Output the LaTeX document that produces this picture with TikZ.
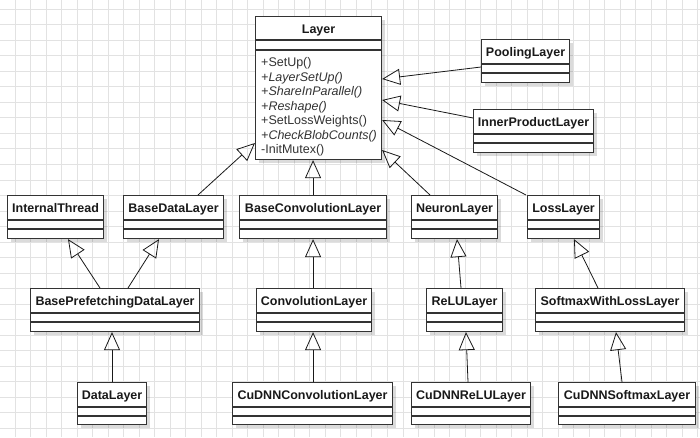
\documentclass[tikz,border=0pt]{standalone}
\usepackage{fontspec}
\setmainfont{Liberation Sans}
\usetikzlibrary{arrows.meta,calc,shadows}
\definecolor{gridc}{HTML}{E2E2E2}
\definecolor{boxc}{HTML}{333333}
\definecolor{opc}{HTML}{333333}
\tikzset{
  cls/.style={draw=boxc, line width=1.1pt, fill=white, anchor=north west, inner sep=0pt,
    drop shadow={shadow xshift=3pt, shadow yshift=-3pt, fill=black, opacity=0.14}},
  clstitle/.style={font=\fontsize{12.5}{14.5}\selectfont\bfseries, text=black!90, inner sep=0pt, anchor=base},
  sepline/.style={draw=boxc, line width=1.1pt},
  inh/.style={draw=black!90, line width=0.8pt, -{Triangle[open, length=18pt, width=16pt]}},
}
\newcommand{\umlclass}[6]{%
  \node[cls, minimum width=#4 pt, minimum height=#5 pt] (#1) at (#2,#3) {};
  \node[clstitle] (#1-t) at ($(#1.north)+(0,17.5)$) {#6};
  \draw[sepline] ($(#1.north west)+(0,25)$) -- ($(#1.north east)+(0,25)$);
  \draw[sepline] ($(#1.north west)+(0,34)$) -- ($(#1.north east)+(0,34)$);
}
\begin{document}
\begin{tikzpicture}[x=1pt,y=-1pt]
\useasboundingbox (0,0) rectangle (700,437);
\fill[white] (0,0) rectangle (700,437);
% grid
\foreach \i in {1,...,45} {\draw[gridc, line width=1pt] ({15.52*\i-0.5},0) -- ({15.52*\i-0.5},437);}
\foreach \j in {0,...,27} {\draw[gridc, line width=1pt] (0,{9.3+15.52*\j}) -- (700,{9.3+15.52*\j});}

% Layer
\node[cls, minimum width=126pt, minimum height=143pt] (layer) at (255,16) {};
\node[clstitle] (layer-t) at ($(layer.north)+(0,17.5)$) {Layer};
\draw[sepline] ($(layer.north west)+(0,24)$) -- ($(layer.north east)+(0,24)$);
\draw[sepline] ($(layer.north west)+(0,34)$) -- ($(layer.north east)+(0,34)$);
\node[anchor=north west, inner sep=0pt, align=left, text=opc,
      font=\fontsize{12.5}{14.5}\selectfont] (layer-ops) at ($(layer.north west)+(6,41.5)$)
  {+SetUp()\\
   \textit{+LayerSetUp()}\\
   \textit{+ShareInParallel()}\\
   \textit{+Reshape()}\\
   +SetLossWeights()\\
   \textit{+CheckBlobCounts()}\\
   -InitMutex()};

\umlclass{pool}{481}{39}{88}{43}{PoolingLayer}
\umlclass{inner}{473}{109}{120}{43}{InnerProductLayer}
\umlclass{ithread}{7}{195}{96}{43}{InternalThread}
\umlclass{bdl}{123}{195}{100}{43}{BaseDataLayer}
\umlclass{bconv}{239}{195}{147}{43}{BaseConvolutionLayer}
\umlclass{neuron}{411}{195}{86}{43}{NeuronLayer}
\umlclass{loss}{527}{195}{72}{43}{LossLayer}
\umlclass{bpf}{30}{288}{169}{43}{BasePrefetchingDataLayer}
\umlclass{conv}{256}{288}{115}{43}{ConvolutionLayer}
\umlclass{relu}{426}{288}{76}{43}{ReLULayer}
\umlclass{softmax}{535}{288}{149}{43}{SoftmaxWithLossLayer}
\umlclass{data}{77}{382}{69}{42}{DataLayer}
\umlclass{cuconv}{232}{382}{160}{42}{CuDNNConvolutionLayer}
\umlclass{curelu}{411}{382}{119}{42}{CuDNNReLULayer}
\umlclass{cusoft}{558}{382}{137}{42}{CuDNNSoftmaxLayer}

% inheritance connectors
\draw[inh] (pool.west |- 0,67) -- (layer.east |- 0,79);
\draw[inh] (inner.west |- 0,118) -- (layer.east |- 0,100);
\draw[inh] ($(loss.north west)+(-1,0)$) -- (layer.east |- 0,120);
\draw[inh] ($(neuron.north west)+(19,0)$) -- (layer.east |- 0,150);
\draw[inh] (bconv.north) -- (bconv.north |- layer.south);
\draw[inh] ($(bdl.north west)+(75,0)$) -- (layer.west |- 0,143);
\draw[inh] ($(bpf.north west)+(70,0)$) -- ($(ithread.south west)+(61,0)$);
\draw[inh] ($(bpf.north west)+(98,0)$) -- ($(bdl.south west)+(36,0)$);
\draw[inh] ($(data.north west)+(35,0)$) -- ($(bpf.south west)+(82,0)$);
\draw[inh] (conv.north -| bconv.south) -- (bconv.south);
\draw[inh] (cuconv.north -| bconv.south) -- (conv.south -| bconv.south);
\draw[inh] ($(relu.north west)+(35,0)$) -- ($(neuron.south west)+(46,0)$);
\draw[inh] ($(curelu.north west)+(57,0)$) -- ($(relu.south west)+(40,0)$);
\draw[inh] ($(softmax.north west)+(63,0)$) -- ($(loss.south west)+(47,0)$);
\draw[inh] ($(cusoft.north west)+(64,0)$) -- ($(softmax.south west)+(81,0)$);
\end{tikzpicture}
\end{document}
